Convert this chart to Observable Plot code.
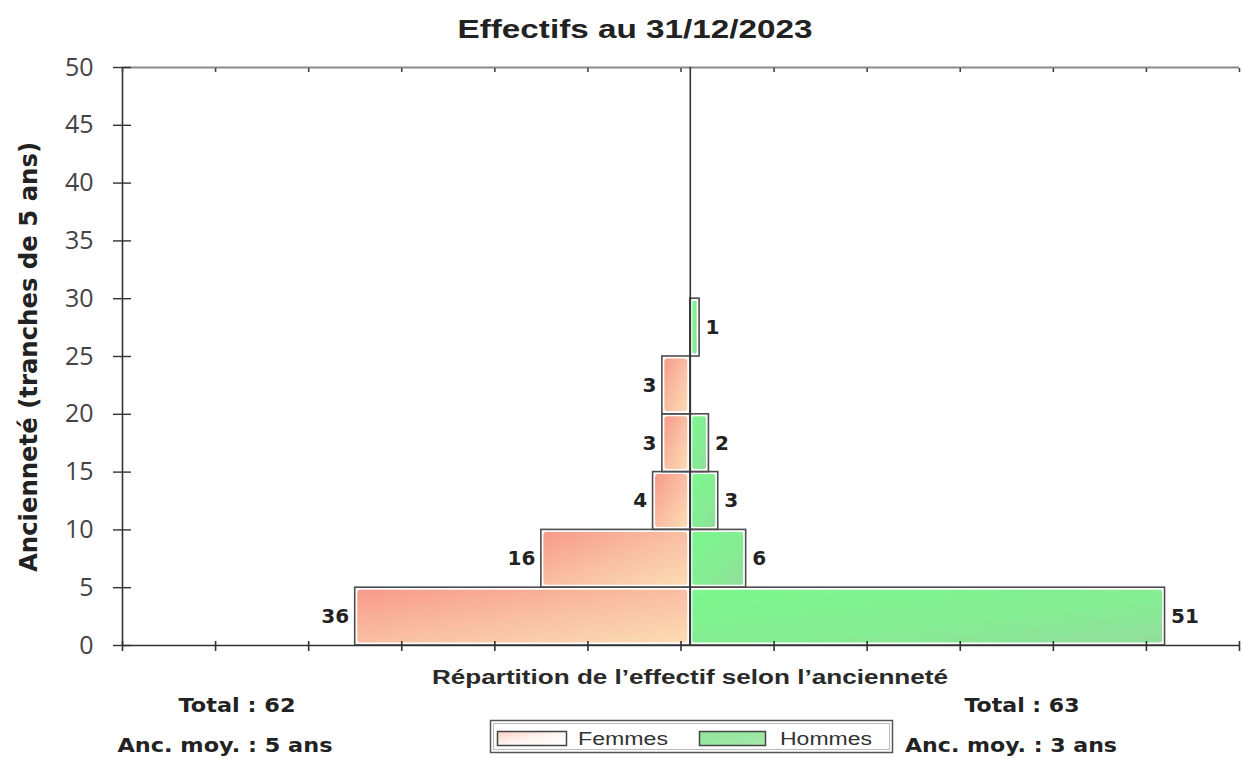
<!DOCTYPE html>
<html><head><meta charset="utf-8">
<script src="https://cdn.jsdelivr.net/npm/d3@7"></script>
<script src="https://cdn.jsdelivr.net/npm/@observablehq/plot@0.6"></script>
<style>body{margin:0;background:#fff} #chart{width:1242px;height:759px}</style>
</head><body><div id="chart"></div>
<script>
// ---- data ----
const tranches = [0, 5, 10, 15, 20, 25];           // start of each 5-year band
const femmes = [36, 16, 4, 3, 3, 0];
const hommes = [51, 6, 3, 2, 0, 1];
const yTicks = [0, 5, 10, 15, 20, 25, 30, 35, 40, 45, 50];
const xTicks = [-61, -51, -41, -31, -21, -11, -1, 9, 19, 29, 39, 49, 59];
const sexes = ["Femmes", "Hommes"];
const ancMoy = [5, 3];
const titre = "Effectifs au 31/12/2023";
const xLabel = "Répartition de l’effectif selon l’ancienneté";
const yLabel = "Ancienneté (tranches de 5 ans)";

const rowsF = [], rowsH = [];
tranches.forEach((t, i) => {
  if (femmes[i] > 0) rowsF.push({lo: t, hi: t + 5, v: femmes[i], x: -femmes[i]});
  if (hommes[i] > 0) rowsH.push({lo: t, hi: t + 5, v: hommes[i], x: hommes[i]});
});
const mid = d => (d.lo + d.hi) / 2;
const lblFont = {fontFamily: "DejaVu Sans", fontWeight: "bold", fontSize: 20, fill: "#222"};

const plot = Plot.plot({
  width: 1242, height: 759,
  marginLeft: 122, marginRight: 3, marginTop: 67, marginBottom: 114,
  x: {domain: [xTicks[0], xTicks[xTicks.length - 1]], label: null},
  y: {domain: [yTicks[0], yTicks[yTicks.length - 1]], label: null},
  style: {background: "white", fontFamily: "Open Sans"},
  marks: [
    Plot.rect(rowsF, {x1: 0, x2: "x", y1: "lo", y2: "hi", fill: "url(#gF)", inset: 2.5, rx: 3}),
    Plot.rect(rowsH, {x1: 0, x2: "x", y1: "lo", y2: "hi", fill: "url(#gH)", inset: 2.5, rx: 2}),
    Plot.rect(rowsF, {x1: 0, x2: "x", y1: "lo", y2: "hi", fill: "none", stroke: "#4d4d4d", strokeWidth: 1.6}),
    Plot.rect(rowsH, {x1: 0, x2: "x", y1: "lo", y2: "hi", fill: "none", stroke: "#4d4d4d", strokeWidth: 1.6}),
    Plot.ruleY([yTicks[yTicks.length - 1]], {stroke: "#8a8a8a", strokeWidth: 2}),
    Plot.ruleY([yTicks[0]], {stroke: "#333", strokeWidth: 1.6}),
    Plot.ruleX([xTicks[0]], {stroke: "#333", strokeWidth: 1.6}),
    Plot.ruleX([0], {stroke: "#333", strokeWidth: 1.6}),
    Plot.axisY(yTicks, {anchor: "left", tickSize: 9, tickPadding: 20, fontSize: 25, fill: "#444", stroke: "#333", strokeWidth: 1.4, label: null}),
    Plot.axisY(yTicks, {anchor: "left", tickSize: -9, tickFormat: () => "", stroke: "#333", strokeWidth: 1.4, label: null}),
    Plot.axisX(xTicks, {anchor: "bottom", tickSize: 6, tickFormat: () => "", stroke: "#333", strokeWidth: 1.6, label: null}),
    Plot.axisX(xTicks, {anchor: "bottom", tickSize: -4, tickFormat: () => "", stroke: "#333", strokeWidth: 1.6, label: null}),
    Plot.axisX(xTicks, {anchor: "top", tickSize: -4, tickFormat: () => "", stroke: "#444", strokeWidth: 1.6, label: null}),
    Plot.text(rowsF, {x: "x", y: mid, text: "v", textAnchor: "end", dx: -6, ...lblFont}),
    Plot.text(rowsH, {x: "x", y: mid, text: "v", textAnchor: "start", dx: 6, ...lblFont})
  ]
});
document.getElementById("chart").append(plot);

// ---- gradients, annotations, legend ----
const svg = d3.select(plot);
const defs = svg.insert("defs", ":first-child");
function grad(id, stops) {
  const g = defs.append("linearGradient").attr("id", id)
    .attr("x1", 0).attr("y1", 0).attr("x2", 1).attr("y2", 1);
  stops.forEach(([o, c]) => g.append("stop").attr("offset", o).attr("stop-color", c));
}
grad("gF", [[0, "#f89a8b"], [0.5, "#f9bea2"], [1, "#fbdcb5"]]);
grad("gH", [[0, "#7cf78e"], [0.6, "#85ec93"], [1, "#92dd9d"]]);
grad("gFl", [[0, "#fbcfc3"], [0.5, "#fff4f0"], [1, "#ffffff"]]);
grad("gHl", [[0, "#8fe69b"], [1, "#a6e8ac"]]);

const g = svg.append("g");
function txt(s, x, y, o) {
  const t = g.append("text").text(s)
    .attr("x", x).attr("y", y)
    .attr("font-family", o.family || "Liberation Sans")
    .attr("font-weight", o.weight || "bold")
    .attr("font-size", o.size)
    .attr("fill", o.fill || "#222")
    .attr("text-anchor", o.anchor || "middle");
  if (o.len) t.attr("textLength", o.len).attr("lengthAdjust", "spacingAndGlyphs");
  if (o.rotate) t.attr("transform", `rotate(${o.rotate},${x},${y})`);
  return t;
}
txt(titre, 635, 38, {size: 25, len: 355});
txt(yLabel, 37, 357, {size: 24, family: "DejaVu Sans", len: 430, rotate: -90});
txt(xLabel, 690, 684, {size: 20, len: 516, fill: "#2a2a2a"});
const totals = [d3.sum(femmes), d3.sum(hommes)];
txt(`Total : ${totals[0]}`, 237, 712, {size: 20, family: "DejaVu Sans", len: 117});
txt(`Anc. moy. : ${ancMoy[0]} ans`, 225, 752, {size: 20, family: "DejaVu Sans", len: 215});
txt(`Total : ${totals[1]}`, 1022, 712, {size: 20, family: "DejaVu Sans", len: 115});
txt(`Anc. moy. : ${ancMoy[1]} ans`, 1011, 752, {size: 20, family: "DejaVu Sans", len: 212});

// legend
g.append("rect").attr("x", 490.5).attr("y", 720.5).attr("width", 402).attr("height", 32)
  .attr("fill", "white").attr("stroke", "#555").attr("stroke-width", 1.5);
g.append("rect").attr("x", 493.5).attr("y", 723.5).attr("width", 396).attr("height", 26)
  .attr("fill", "none").attr("stroke", "#bbb").attr("stroke-width", 1);
g.append("rect").attr("x", 497.5).attr("y", 731.5).attr("width", 69).attr("height", 14)
  .attr("fill", "url(#gFl)").attr("stroke", "#444").attr("stroke-width", 1.5);
g.append("rect").attr("x", 699.5).attr("y", 731.5).attr("width", 66).attr("height", 14)
  .attr("fill", "url(#gHl)").attr("stroke", "#444").attr("stroke-width", 1.5);
txt(sexes[0], 578, 745, {size: 18, weight: "normal", anchor: "start", len: 90, fill: "#333"});
txt(sexes[1], 780, 745, {size: 18, weight: "normal", anchor: "start", len: 92, fill: "#333"});
</script></body></html>
